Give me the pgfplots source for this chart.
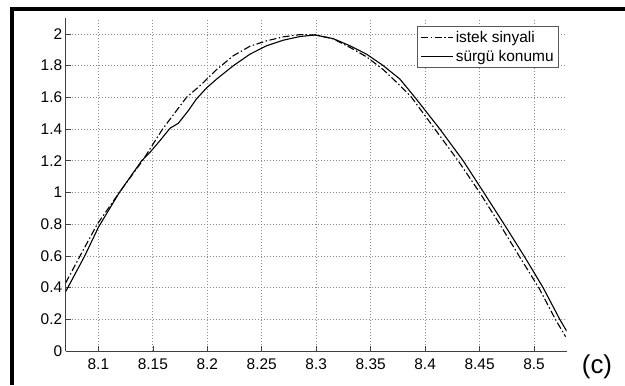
\documentclass[border=0pt]{standalone}
\usepackage{fontspec}
\setmainfont{Liberation Sans}
\usepackage{pgfplots}
\pgfplotsset{compat=1.18}

\begin{document}
\begin{tikzpicture}[x=1bp,y=1bp]
\path[use as bounding box] (-65.7,-34) rectangle (559.3,351);
\begin{axis}[
  at={(0bp,0bp)}, anchor=south west,
  scale only axis, width=501bp, height=333bp,
  xmin=8.07, xmax=8.53, ymin=0, ymax=2.1,
  axis lines*=left,
  axis line style={black!75, line width=0.6bp},
  tick align=inside,
  major tick length=5bp,
  tick style={black!75, line width=0.6bp},
  xtick={8.1,8.15,8.2,8.25,8.3,8.35,8.4,8.45,8.5},
  ytick={0,0.2,0.4,0.6,0.8,1,1.2,1.4,1.6,1.8,2},
  grid=major,
  major grid style={dash pattern=on 0.8bp off 2.2bp, black!45, line width=0.7bp},
  ticklabel style={font=\fontsize{15.5}{18}\selectfont},
  /pgf/number format/assume math mode=true,
  xticklabel style={yshift=-4bp},
  yticklabel style={xshift=0bp},
  legend cell align=left,
  legend style={at={(0.9847,0.976)}, anchor=north east,
    font=\fontsize{15.5}{18}\selectfont, draw=black!65, line width=0.8bp,
    fill=white, inner xsep=3bp, inner ysep=3bp, row sep=2bp},
  legend image code/.code={\draw[#1] (0bp,0bp) -- (32bp,0bp);},
]
\addplot[black, line width=1.1bp, dash pattern=on 7bp off 2.5bp on 1.5bp off 2.5bp] coordinates {
(8.070,0.43) (8.0832,0.60) (8.0990,0.80) (8.1193,1.00) (8.1405,1.20)
(8.1590,1.40) (8.1810,1.60) (8.1933,1.673) (8.2086,1.775) (8.2239,1.862)
(8.2392,1.922) (8.2545,1.956) (8.2697,1.981) (8.2850,1.995) (8.3000,1.993)
(8.3156,1.968) (8.3309,1.915) (8.3462,1.855) (8.3615,1.775) (8.3768,1.675)
(8.3875,1.60) (8.4089,1.40) (8.4303,1.20) (8.4500,1.00) (8.4685,0.80)
(8.4862,0.60) (8.5043,0.40) (8.5196,0.20) (8.5290,0.09)
};
\addlegendentry{istek sinyali}
\addplot[black, line width=1.1bp] coordinates {
(8.070,0.375) (8.0875,0.60) (8.1000,0.78) (8.1193,1.00) (8.1398,1.20)
(8.1474,1.253) (8.1566,1.327) (8.1658,1.405) (8.1734,1.436) (8.1826,1.516)
(8.1900,1.589) (8.1995,1.660) (8.2086,1.715) (8.2239,1.799) (8.2392,1.872)
(8.2545,1.925) (8.2697,1.960) (8.2850,1.983) (8.2989,1.993) (8.3156,1.970)
(8.3309,1.925) (8.3462,1.872) (8.3615,1.800) (8.3768,1.715) (8.3906,1.60)
(8.4135,1.40) (8.4349,1.20) (8.4538,1.00) (8.4725,0.80) (8.4908,0.60)
(8.5083,0.40) (8.5236,0.20) (8.5300,0.125)
};
\addlegendentry{sürgü konumu}
\end{axis}
\draw[line width=4bp, line join=miter] (-54,-34) -- (-54,342.3) -- (559.3,342.3);
\node[font=\fontsize{26}{30}\selectfont, inner sep=0pt] at (531.3,-15.7) {(c)};
\end{tikzpicture}
\end{document}
